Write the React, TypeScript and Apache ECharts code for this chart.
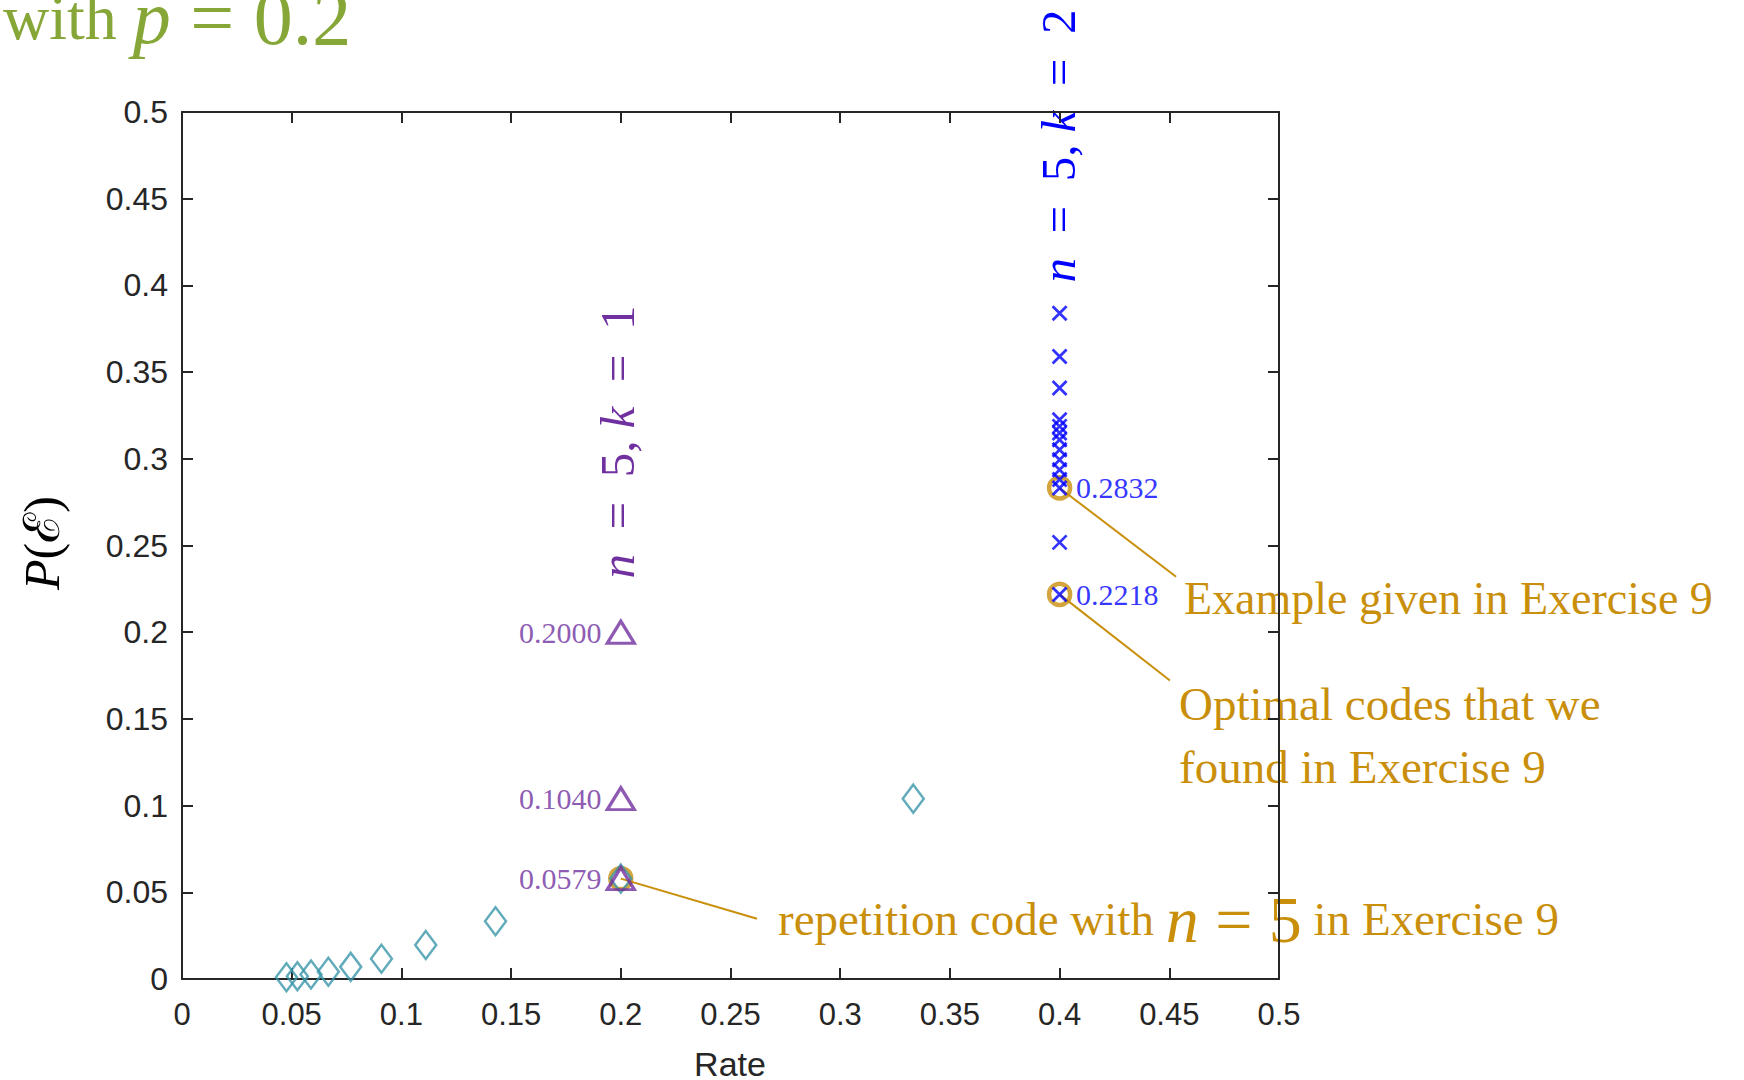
import React, { useEffect, useRef } from "react";
import * as echarts from "echarts";

// ---- data ----
const repRates = [0.0476, 0.0526, 0.0588, 0.0667, 0.0769, 0.0909, 0.1111, 0.1429, 0.2, 0.3333];
const repErrors = [0.00097, 0.0016, 0.0026, 0.0042, 0.007, 0.0117, 0.0196, 0.0333, 0.0579, 0.104];

const k1Rate = 0.2;
const k1Errors = [0.2, 0.104, 0.0579];

const k2Rate = 0.4;
const k2Errors = [0.384, 0.359, 0.3408, 0.3225, 0.3187, 0.3149, 0.311, 0.3052, 0.2994, 0.2937, 0.288, 0.2832, 0.2518, 0.2218];
const k2Labelled = [0.2832, 0.2218];

const highlightX = [0.4, 0.4, 0.2];
const highlightY = [0.2832, 0.2218, 0.0579];

// annotation leader lines: [from, to] in data units
const leaderLines = [
  [[0.4, 0.2832], [0.4531, 0.232]],
  [[0.4, 0.2218], [0.4503, 0.1721]],
  [[0.2, 0.0579], [0.2621, 0.0347]],
];

const xTickLabels = ["0", "0.05", "0.1", "0.15", "0.2", "0.25", "0.3", "0.35", "0.4", "0.45", "0.5"];
const yTickLabels = ["0", "0.05", "0.1", "0.15", "0.2", "0.25", "0.3", "0.35", "0.4", "0.45", "0.5"];

const GOLD = "#C98F0B";
const TEAL = "#3A96A9";
const PURPLE = "#7030A0";
const BLUE = "#0000FF";
const GREEN = "#86A737";
const AX = "#262626";

export default function App() {
  const ref = useRef<HTMLDivElement>(null);
  useEffect(() => {
    if (!ref.current) return;
    const chart = echarts.init(ref.current, null, { renderer: "svg" });
    const tickFmtX = (v: number) => xTickLabels[Math.round(v / 0.05)] ?? "";
    const tickFmtY = (v: number) => yTickLabels[Math.round(v / 0.05)] ?? "";
    const baseAxis = {
      min: 0,
      max: 0.5,
      interval: 0.05,
      axisLine: { show: true, onZero: false, lineStyle: { color: AX, width: 2 } },
      axisTick: { show: true, inside: true, length: 11, lineStyle: { color: AX, width: 2 } },
      splitLine: { show: false },
    };
    const option: any = {
      animation: false,
      backgroundColor: "#ffffff",
      grid: { left: 182, top: 112, width: 1097, height: 867, containLabel: false },
      xAxis: [
        {
          ...baseAxis,
          type: "value",
          position: "bottom",
          axisLabel: {
            show: true,
            formatter: tickFmtX,
            color: AX,
            fontSize: 31,
            fontFamily: "Liberation Sans",
            margin: 20,
          },
        },
        { ...baseAxis, type: "value", position: "top", axisLabel: { show: false } },
      ],
      yAxis: [
        {
          ...baseAxis,
          type: "value",
          position: "left",
          axisLabel: {
            show: true,
            formatter: tickFmtY,
            color: AX,
            fontSize: 32,
            fontFamily: "Liberation Sans",
            margin: 14,
          },
        },
        { ...baseAxis, type: "value", position: "right", axisLabel: { show: false } },
      ],
      series: [
        ...leaderLines.map((seg) => ({
          type: "line",
          data: seg,
          symbol: "none",
          silent: true,
          lineStyle: { color: GOLD, width: 2 },
          z: 1,
        })),
        {
          type: "scatter",
          data: highlightX.map((x, i) => [x, highlightY[i]]),
          symbol: "circle",
          symbolSize: 21,
          itemStyle: { color: "transparent", borderColor: GOLD, borderWidth: 4.5 },
          z: 2,
        },
        {
          type: "scatter",
          data: repRates.map((x, i) => [x, repErrors[i]]),
          symbol: "diamond",
          symbolSize: [21, 28],
          itemStyle: { color: "transparent", borderColor: TEAL, borderWidth: 2.5 },
          z: 3,
        },
        {
          type: "scatter",
          data: k1Errors.map((y) => [k1Rate, y]),
          symbol: "triangle",
          symbolSize: [27, 22],
          itemStyle: { color: "transparent", borderColor: PURPLE, borderWidth: 3.2 },
          label: {
            show: true,
            position: "left",
            distance: 4,
            formatter: (p: any) => p.value[1].toFixed(4),
            color: PURPLE,
            fontSize: 30,
            fontFamily: "Liberation Serif",
          },
          z: 4,
        },
        {
          type: "scatter",
          data: k2Errors.map((y) => ({
            value: [k2Rate, y],
            label: { show: k2Labelled.indexOf(y) >= 0 },
          })),
          symbol: "path://M0,0L10,10M10,0L0,10",
          symbolSize: 14,
          itemStyle: { color: "transparent", borderColor: BLUE, borderWidth: 2.8 },
          label: {
            position: "right",
            distance: 8,
            formatter: (p: any) => p.value[1].toFixed(4),
            color: BLUE,
            fontSize: 30,
            fontFamily: "Liberation Serif",
          },
          z: 5,
        },
      ],
      graphic: [
        {
          type: "text",
          left: 3,
          top: -22,
          style: {
            text: "{a|with }{b|p}{c| = 0.2}",
            fill: GREEN,
            rich: {
              a: { fontSize: 64, fontFamily: "Liberation Serif", fill: GREEN },
              b: { fontSize: 76, fontFamily: "Liberation Serif", fontStyle: "italic", fill: GREEN },
              c: { fontSize: 78, fontFamily: "Liberation Serif", fill: GREEN },
            },
          },
        },
        {
          type: "text",
          x: 42,
          y: 543,
          rotation: Math.PI / 2,
          style: {
            text: "{i|P}{r|(ℰ)}",
            align: "center",
            verticalAlign: "middle",
            rich: {
              i: { fontSize: 50, fontFamily: "Liberation Serif", fontStyle: "italic", fill: "#000" },
              r: { fontSize: 50, fontFamily: "Liberation Serif", fill: "#000" },
            },
          },
        },
        {
          type: "text",
          x: 730,
          y: 1064,
          style: {
            text: "Rate",
            fontSize: 34,
            fontFamily: "Liberation Sans",
            fill: AX,
            align: "center",
            verticalAlign: "middle",
          },
        },
        {
          type: "text",
          x: 1058,
          y: 146,
          rotation: Math.PI / 2,
          style: {
            text: "{i|n}{r|  =  5, }{i|k}{r|  =  2}",
            align: "center",
            verticalAlign: "middle",
            rich: {
              i: { fontSize: 49, fontFamily: "Liberation Serif", fontStyle: "italic", fill: BLUE },
              r: { fontSize: 49, fontFamily: "Liberation Serif", fill: BLUE },
            },
          },
        },
        {
          type: "text",
          x: 617,
          y: 442,
          rotation: Math.PI / 2,
          style: {
            text: "{i|n}{r|  =  5, }{i|k}{r|  =  1}",
            align: "center",
            verticalAlign: "middle",
            rich: {
              i: { fontSize: 49, fontFamily: "Liberation Serif", fontStyle: "italic", fill: PURPLE },
              r: { fontSize: 49, fontFamily: "Liberation Serif", fill: PURPLE },
            },
          },
        },
        {
          type: "text",
          x: 1184,
          y: 598,
          style: {
            text: "Example given in Exercise 9",
            fontSize: 46,
            fontFamily: "Liberation Serif",
            fill: GOLD,
            verticalAlign: "middle",
          },
        },
        {
          type: "text",
          x: 1179,
          y: 704,
          style: {
            text: "Optimal codes that we",
            fontSize: 47,
            fontFamily: "Liberation Serif",
            fill: GOLD,
            verticalAlign: "middle",
          },
        },
        {
          type: "text",
          x: 1179,
          y: 767,
          style: {
            text: "found in Exercise 9",
            fontSize: 47,
            fontFamily: "Liberation Serif",
            fill: GOLD,
            verticalAlign: "middle",
          },
        },
        {
          type: "text",
          x: 778,
          y: 919,
          style: {
            text: "{a|repetition code with }{i|n}{m| = 5}{a| in Exercise 9}",
            verticalAlign: "middle",
            rich: {
              a: { fontSize: 47, fontFamily: "Liberation Serif", fill: GOLD },
              i: { fontSize: 66, fontFamily: "Liberation Serif", fontStyle: "italic", fill: GOLD },
              m: { fontSize: 66, fontFamily: "Liberation Serif", fill: GOLD },
            },
          },
        },
      ],
    };
    chart.setOption(option);
    return () => chart.dispose();
  }, []);
  return (
    <div
      ref={ref}
      style={{ position: "fixed", left: 0, top: 0, width: 1744, height: 1080, background: "#fff" }}
    />
  );
}
